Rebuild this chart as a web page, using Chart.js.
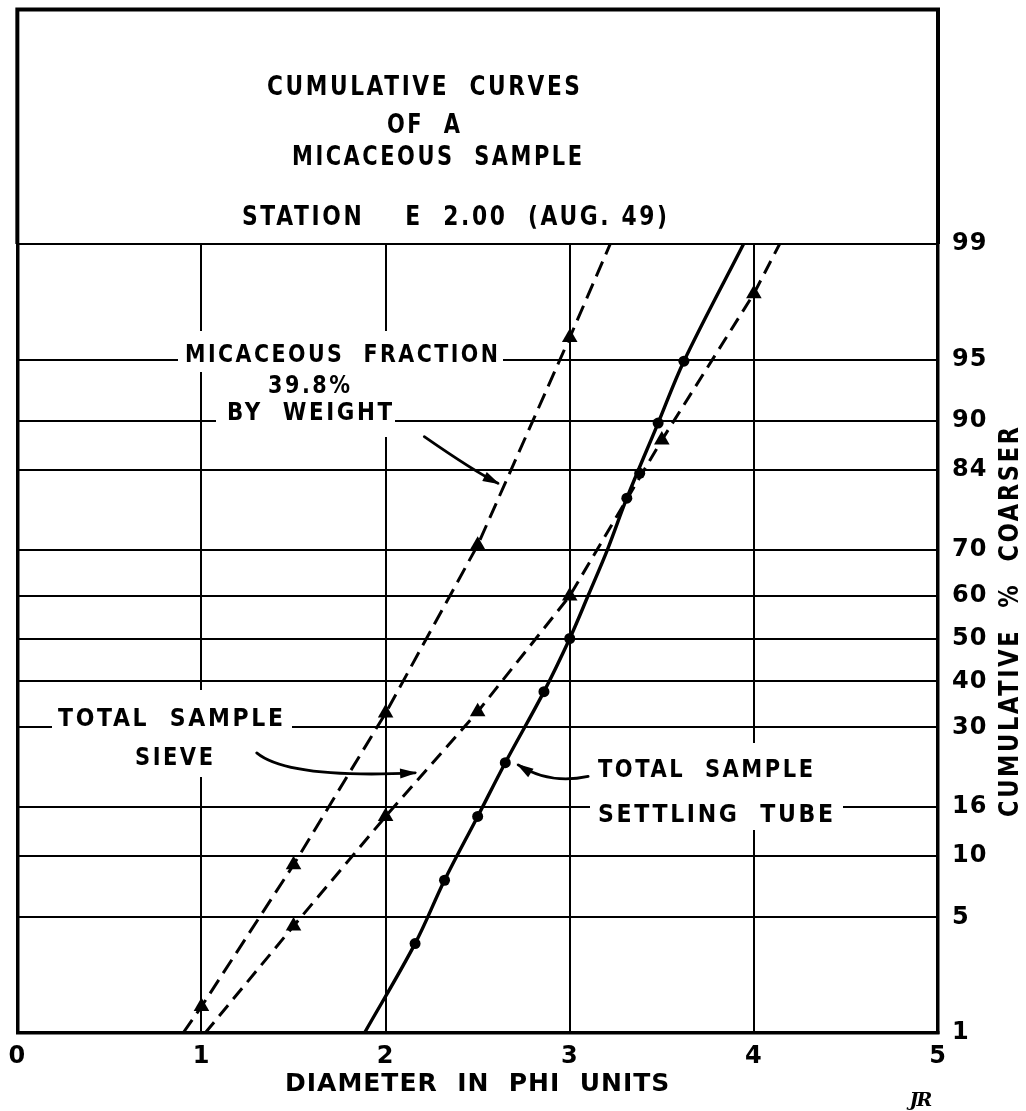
<!DOCTYPE html>
<html>
<head>
<meta charset="utf-8">
<title>Cumulative curves of a micaceous sample</title>
<script src="https://cdn.jsdelivr.net/npm/chart.js@4.4.1/dist/chart.umd.min.js"></script>
<style>
  html, body { margin: 0; padding: 0; background: #fff; }
  canvas { display: block; }
</style>
</head>
<body>
<canvas id="grafico" width="1026" height="1111"></canvas>
<script>
// axis ticks
const phiTicks = [0, 1, 2, 3, 4, 5];
const pctTicks = [1, 5, 10, 16, 30, 40, 50, 60, 70, 84, 90, 95, 99];

// micaceous fraction (dashed line, triangles)
const micaPhi = [1.0, 1.5, 2.0, 2.5, 3.0];
const micaPct = [1.5, 9.1, 33.0, 70.9, 96.2];
const micaEndPhi = [0.90, 3.22];
const micaEndPct = [1, 99];

// total sample, sieve (dashed line, triangles)
const sievePhi = [1.5, 2.0, 2.5, 3.0, 3.5, 4.0];
const sievePct = [4.5, 14.7, 33.3, 59.9, 87.9, 97.9];
const sieveEndPhi = [1.02, 4.14];
const sieveEndPct = [1, 99];

// total sample, settling tube (solid line, dots)
const tubeDotPhi = [2.16, 2.32, 2.50, 2.65, 2.86, 3.0, 3.31, 3.38, 3.48, 3.62];
const tubeDotPct = [3.6, 7.7, 14.7, 23.2, 37.7, 50, 79.6, 83.5, 89.8, 94.9];
const tubeCurvePhi = [1.885, 2.16, 2.32, 2.50, 2.65, 2.86, 3.0, 3.10, 3.205, 3.31, 3.48, 3.62, 3.944];
const tubeCurvePct = [1, 3.6, 7.7, 14.7, 23.2, 37.7, 50, 60, 70, 79.6, 89.8, 94.9, 99];

// inverse of the normal distribution (probability paper)
function probit(p) {
  const a = [-3.969683028665376e+01, 2.209460984245205e+02, -2.759285104469687e+02, 1.383577518672690e+02, -3.066479806614716e+01, 2.506628277459239e+00];
  const b = [-5.447609879822406e+01, 1.615858368580409e+02, -1.556989798598866e+02, 6.680131188771972e+01, -1.328068155288572e+01];
  const c = [-7.784894002430293e-03, -3.223964580411365e-01, -2.400758277161838e+00, -2.549671010139111e+00, 4.374664141464968e+00, 2.938163982698783e+00];
  const d = [7.784695709041462e-03, 3.224671290700398e-01, 2.445134137142996e+00, 3.754408661907416e+00];
  const pl = 0.02425;
  let q, r;
  if (p < pl) {
    q = Math.sqrt(-2 * Math.log(p));
    return (((((c[0]*q+c[1])*q+c[2])*q+c[3])*q+c[4])*q+c[5]) / ((((d[0]*q+d[1])*q+d[2])*q+d[3])*q+1);
  }
  if (p > 1 - pl) {
    q = Math.sqrt(-2 * Math.log(1 - p));
    return -(((((c[0]*q+c[1])*q+c[2])*q+c[3])*q+c[4])*q+c[5]) / ((((d[0]*q+d[1])*q+d[2])*q+d[3])*q+1);
  }
  q = p - 0.5;
  r = q * q;
  return (((((a[0]*r+a[1])*r+a[2])*r+a[3])*r+a[4])*r+a[5])*q / (((((b[0]*r+b[1])*r+b[2])*r+b[3])*r+b[4])*r+1);
}

const pts = (xs, ys) => xs.map((x, i) => ({ x: x, y: probit(ys[i] / 100) }));
const withEnds = (xs, ys, ex, ey) => pts([ex[0], ...xs, ex[1]], [ey[0], ...ys, ey[1]]);

// lettering
const FONT = '"DejaVu Sans", "Liberation Sans", sans-serif';

const titleLines = [
  { text: 'CUMULATIVE  CURVES', x: 423.5, y: 85, w: 313, size: 27 },
  { text: 'OF  A', x: 423.5, y: 123, w: 73, size: 27 },
  { text: 'MICACEOUS  SAMPLE', x: 437, y: 155.5, w: 290, size: 27 },
  { text: 'STATION    E  2.00  (AUG. 49)', x: 454.5, y: 215, w: 425, size: 27 }
];

const notes = [
  { text: 'MICACEOUS  FRACTION', x: 341.5, y: 352.5, w: 313, size: 25 },
  { text: '39.8%', x: 309, y: 384, w: 82, size: 25 },
  { text: 'BY  WEIGHT', x: 309.5, y: 411, w: 165, size: 25 },
  { text: 'TOTAL  SAMPLE', x: 170.5, y: 716.5, w: 225, size: 25 },
  { text: 'SIEVE', x: 174, y: 756, w: 78, size: 25 },
  { text: 'TOTAL  SAMPLE', x: 705.5, y: 768, w: 215, size: 25 },
  { text: 'SETTLING  TUBE', x: 715.5, y: 812.5, w: 235, size: 25 }
];

// blank patches behind the lettering
const blanks = [
  [178, 331, 325, 41],
  [216, 372, 179, 65],
  [52, 690, 240, 50],
  [120, 740, 110, 37],
  [590, 743, 253, 87]
];

// leader arrows, in (phi, percent)
const arrows = [
  { from: [2.21, 88.3], via: [2.48, 83.8], to: [2.61, 82.0] },
  { from: [1.30, 25.0], via: [1.47, 20.4], to: [2.16, 21.4] },
  { from: [3.10, 20.8], via: [2.89, 19.4], to: [2.72, 22.8] }
];

function fitText(ctx, text, cx, cy, width, size) {
  ctx.save();
  ctx.font = 'bold ' + size + 'px ' + FONT;
  ctx.letterSpacing = (size * 0.12) + 'px';
  ctx.textAlign = 'left';
  ctx.textBaseline = 'alphabetic';
  ctx.fillStyle = '#000';
  const w = ctx.measureText(text).width - size * 0.12;
  ctx.translate(cx - width / 2, cy + size * 0.365);
  ctx.scale(width / w, 1);
  ctx.fillText(text, 0, 0);
  ctx.restore();
}

function drawArrow(ctx, xs, ys, a) {
  const p = (v) => [xs.getPixelForValue(v[0]), ys.getPixelForValue(probit(v[1] / 100))];
  const p0 = p(a.from), p1 = p(a.via), p2 = p(a.to);
  ctx.beginPath();
  ctx.moveTo(p0[0], p0[1]);
  ctx.quadraticCurveTo(p1[0], p1[1], p2[0], p2[1]);
  ctx.stroke();
  const ang = Math.atan2(p2[1] - p1[1], p2[0] - p1[0]);
  const len = 15, half = 5;
  const bx = p2[0] - len * Math.cos(ang), by = p2[1] - len * Math.sin(ang);
  ctx.beginPath();
  ctx.moveTo(p2[0] + 2 * Math.cos(ang), p2[1] + 2 * Math.sin(ang));
  ctx.lineTo(bx + half * Math.sin(ang), by - half * Math.cos(ang));
  ctx.lineTo(bx - half * Math.sin(ang), by + half * Math.cos(ang));
  ctx.closePath();
  ctx.fill();
}

const drawing = {
  id: 'drawing',
  beforeDraw(chart) {
    const ctx = chart.ctx;
    ctx.save();
    ctx.fillStyle = '#fff';
    ctx.fillRect(0, 0, chart.width, chart.height);
    ctx.restore();
    ctx.letterSpacing = '1px';
  },
  beforeDatasetsDraw(chart) {
    const ctx = chart.ctx;
    ctx.save();
    ctx.fillStyle = '#fff';
    blanks.forEach(b => ctx.fillRect(b[0], b[1], b[2], b[3]));
    notes.forEach(n => fitText(ctx, n.text, n.x, n.y, n.w, n.size));
    ctx.restore();
  },
  afterDatasetsDraw(chart) {
    const ctx = chart.ctx;
    ctx.save();
    ctx.strokeStyle = '#000';
    ctx.fillStyle = '#000';
    ctx.lineWidth = 2.8;
    ctx.lineCap = 'round';
    arrows.forEach(a => drawArrow(ctx, chart.scales.x, chart.scales.y, a));
    ctx.restore();
  },
  afterDraw(chart) {
    const ctx = chart.ctx;
    const area = chart.chartArea;
    ctx.save();
    // frame around the title block
    ctx.strokeStyle = '#000';
    ctx.lineWidth = 4;
    ctx.beginPath();
    ctx.moveTo(area.left, area.top);
    ctx.lineTo(area.left, 9.5);
    ctx.lineTo(area.right, 9.5);
    ctx.lineTo(area.right, area.top);
    ctx.stroke();
    titleLines.forEach(t => fitText(ctx, t.text, t.x, t.y, t.w, t.size));
    // right axis title, reading upwards
    ctx.save();
    ctx.translate(1008, 622);
    ctx.rotate(-Math.PI / 2);
    fitText(ctx, 'CUMULATIVE  %  COARSER', 0, 0, 390, 27);
    ctx.restore();
    // draftsman's initials
    ctx.font = 'italic bold 19px "DejaVu Serif", serif';
    ctx.letterSpacing = '-2px';
    ctx.fillStyle = '#000';
    ctx.textAlign = 'center';
    ctx.textBaseline = 'middle';
    ctx.fillText('JR', 920, 1101);
    ctx.restore();
  }
};

const tickFont = { family: FONT, size: 24, weight: 'bold' };

new Chart(document.getElementById('grafico'), {
  type: 'scatter',
  data: {
    datasets: [
      {
        label: 'Micaceous fraction',
        data: pts(micaPhi, micaPct),
        pointStyle: 'triangle', pointRadius: 9, pointHoverRadius: 9,
        backgroundColor: '#000', borderColor: '#000', borderWidth: 0
      },
      {
        label: 'Total sample, sieve',
        data: pts(sievePhi, sievePct),
        pointStyle: 'triangle', pointRadius: 9, pointHoverRadius: 9,
        backgroundColor: '#000', borderColor: '#000', borderWidth: 0
      },
      {
        label: 'Total sample, settling tube',
        data: pts(tubeDotPhi, tubeDotPct),
        pointStyle: 'circle', pointRadius: 5.5, pointHoverRadius: 5.5,
        backgroundColor: '#000', borderColor: '#000', borderWidth: 0
      },
      {
        label: 'Micaceous fraction curve',
        data: withEnds(micaPhi, micaPct, micaEndPhi, micaEndPct),
        showLine: true, pointRadius: 0, pointHoverRadius: 0,
        borderColor: '#000', borderWidth: 3, borderDash: [16, 8], tension: 0
      },
      {
        label: 'Sieve curve',
        data: withEnds(sievePhi, sievePct, sieveEndPhi, sieveEndPct),
        showLine: true, pointRadius: 0, pointHoverRadius: 0,
        borderColor: '#000', borderWidth: 3, borderDash: [14, 8], tension: 0
      },
      {
        label: 'Settling tube curve',
        data: pts(tubeCurvePhi, tubeCurvePct),
        showLine: true, pointRadius: 0, pointHoverRadius: 0,
        borderColor: '#000', borderWidth: 3.4, tension: 0.35
      }
    ]
  },
  options: {
    responsive: false,
    animation: false,
    devicePixelRatio: 1,
    layout: { padding: { top: 244, left: 15, right: 0, bottom: 0 } },
    plugins: {
      legend: { display: false },
      tooltip: { enabled: false }
    },
    scales: {
      x: {
        type: 'linear',
        min: 0,
        max: 5,
        afterBuildTicks: s => { s.ticks = phiTicks.map(v => ({ value: v })); },
        afterFit: s => { s.height = 78; },
        ticks: { color: '#000', font: tickFont, padding: 9, autoSkip: false, maxRotation: 0 },
        grid: {
          color: '#000',
          lineWidth: c => (c.tick && c.tick.value === 0) ? 3.5 : 2,
          drawTicks: false
        },
        border: { color: '#000', width: 3.5 },
        title: {
          display: true,
          text: 'DIAMETER  IN  PHI  UNITS',
          color: '#000',
          font: { family: FONT, size: 25, weight: 'bold' },
          padding: { top: 0, bottom: 12 }
        }
      },
      y: {
        type: 'linear',
        position: 'right',
        min: probit(0.01),
        max: probit(0.99),
        afterBuildTicks: s => { s.ticks = pctTicks.map(p => ({ value: probit(p / 100) })); },
        afterFit: s => { s.width = 88; },
        ticks: {
          color: '#000', font: tickFont, padding: 14, autoSkip: false,
          callback: (v, i) => String(pctTicks[i])
        },
        grid: { color: '#000', lineWidth: 2, drawTicks: false },
        border: { color: '#000', width: 3.5 }
      }
    }
  },
  plugins: [drawing]
});
</script>
</body>
</html>
